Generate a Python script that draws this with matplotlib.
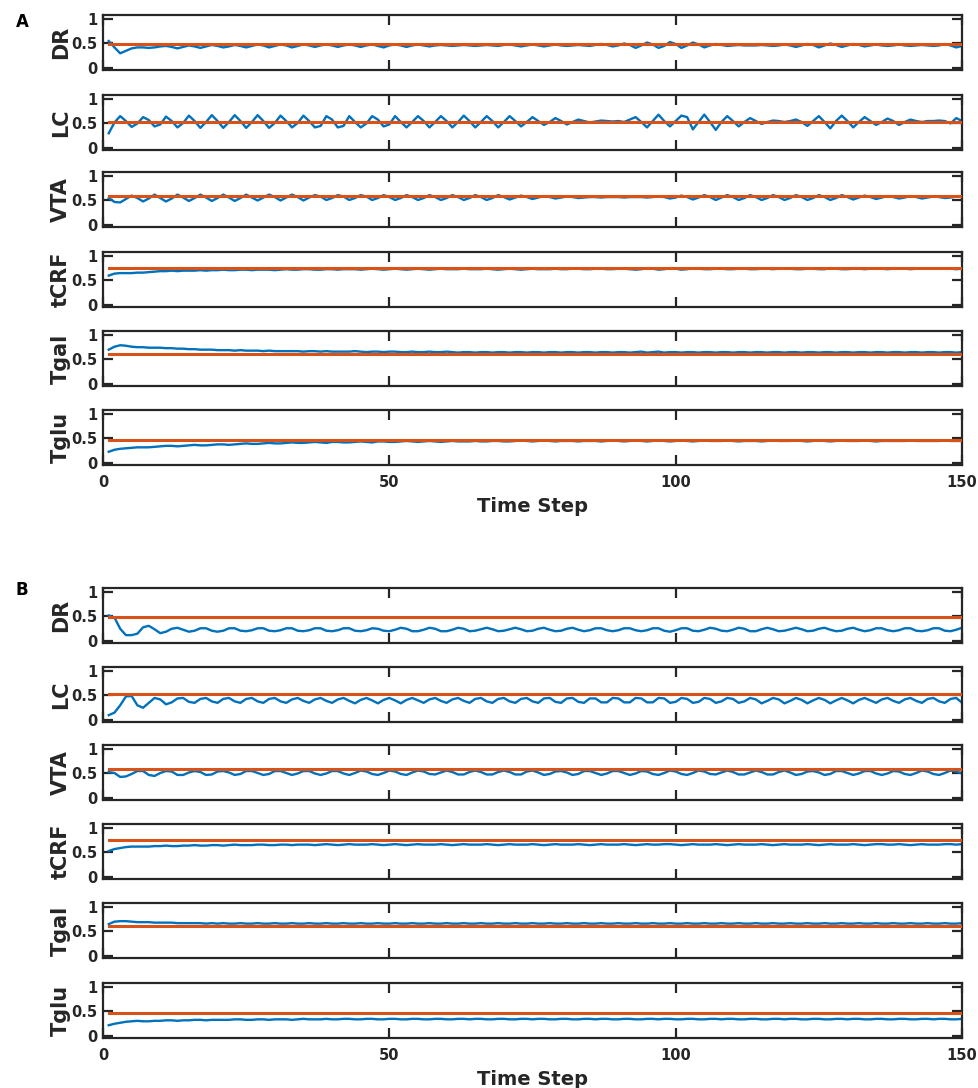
import numpy as np
import matplotlib
matplotlib.use('Agg')
import matplotlib.pyplot as plt

# variable names (top to bottom) and their reference (setpoint) levels
NAMES = ['DR', 'LC', 'VTA', 'tCRF', 'Tgal', 'Tglu']
SETPOINT = [0.48, 0.53, 0.60, 0.76, 0.62, 0.46]

X_TICKS = [0, 50, 100, 150]
Y_TICKS = [0, 0.5, 1]
Y_TICKLABELS = ['0', '0.5', '1']

# ---- panel A ----
A_DR = [0.55, 0.42, 0.30, 0.35, 0.40, 0.42, 0.42, 0.41, 0.42, 0.44,
        0.45, 0.43, 0.40, 0.43, 0.46, 0.44, 0.41, 0.44, 0.47, 0.45,
        0.42, 0.44, 0.47, 0.45, 0.42, 0.45, 0.48, 0.46, 0.42, 0.45,
        0.48, 0.46, 0.42, 0.45, 0.48, 0.46, 0.43, 0.46, 0.48, 0.46,
        0.43, 0.46, 0.48, 0.46, 0.43, 0.46, 0.48, 0.45, 0.42, 0.46,
        0.48, 0.46, 0.43, 0.46, 0.48, 0.46, 0.44, 0.46, 0.47, 0.46,
        0.45, 0.46, 0.47, 0.46, 0.45, 0.46, 0.47, 0.46, 0.45, 0.47,
        0.48, 0.46, 0.44, 0.46, 0.48, 0.46, 0.44, 0.46, 0.48, 0.46,
        0.45, 0.46, 0.47, 0.46, 0.45, 0.47, 0.49, 0.47, 0.44, 0.46,
        0.50, 0.47, 0.41, 0.46, 0.52, 0.48, 0.41, 0.45, 0.53, 0.49,
        0.41, 0.46, 0.52, 0.48, 0.42, 0.46, 0.49, 0.47, 0.45, 0.46,
        0.47, 0.46, 0.46, 0.46, 0.47, 0.46, 0.45, 0.46, 0.48, 0.46,
        0.43, 0.46, 0.49, 0.47, 0.42, 0.46, 0.50, 0.47, 0.43, 0.46,
        0.49, 0.47, 0.44, 0.46, 0.48, 0.46, 0.45, 0.46, 0.48, 0.46,
        0.45, 0.46, 0.47, 0.46, 0.45, 0.46, 0.49, 0.46, 0.42, 0.45]

A_LC = [0.30, 0.52, 0.65, 0.55, 0.43, 0.50, 0.63, 0.57, 0.44, 0.48,
        0.64, 0.55, 0.42, 0.51, 0.66, 0.55, 0.41, 0.53, 0.67, 0.55,
        0.41, 0.53, 0.67, 0.55, 0.41, 0.53, 0.67, 0.55, 0.41, 0.51,
        0.66, 0.55, 0.42, 0.51, 0.66, 0.55, 0.42, 0.45, 0.65, 0.58,
        0.42, 0.45, 0.65, 0.53, 0.42, 0.50, 0.65, 0.58, 0.44, 0.48,
        0.65, 0.53, 0.42, 0.53, 0.65, 0.55, 0.42, 0.53, 0.65, 0.55,
        0.42, 0.53, 0.66, 0.55, 0.42, 0.53, 0.65, 0.55, 0.42, 0.53,
        0.65, 0.55, 0.44, 0.53, 0.63, 0.55, 0.47, 0.53, 0.61, 0.55,
        0.48, 0.53, 0.58, 0.55, 0.52, 0.54, 0.56, 0.55, 0.54, 0.55,
        0.53, 0.58, 0.63, 0.53, 0.42, 0.55, 0.68, 0.55, 0.44, 0.55,
        0.66, 0.63, 0.38, 0.53, 0.68, 0.53, 0.37, 0.53, 0.65, 0.55,
        0.44, 0.53, 0.61, 0.55, 0.49, 0.53, 0.56, 0.55, 0.53, 0.55,
        0.58, 0.53, 0.45, 0.55, 0.65, 0.53, 0.40, 0.55, 0.66, 0.55,
        0.42, 0.53, 0.63, 0.55, 0.47, 0.53, 0.60, 0.55, 0.47, 0.53,
        0.58, 0.55, 0.53, 0.55, 0.55, 0.56, 0.55, 0.50, 0.61, 0.55]

A_VTA = [0.55, 0.47, 0.46, 0.53, 0.60, 0.55, 0.48, 0.54, 0.62, 0.55,
         0.48, 0.54, 0.62, 0.56, 0.49, 0.55, 0.62, 0.56, 0.49, 0.55,
         0.62, 0.56, 0.49, 0.55, 0.62, 0.56, 0.50, 0.56, 0.62, 0.57,
         0.50, 0.56, 0.62, 0.57, 0.50, 0.56, 0.61, 0.58, 0.51, 0.55,
         0.61, 0.58, 0.51, 0.55, 0.61, 0.58, 0.51, 0.55, 0.61, 0.57,
         0.51, 0.55, 0.61, 0.57, 0.51, 0.55, 0.61, 0.57, 0.51, 0.55,
         0.61, 0.57, 0.51, 0.55, 0.61, 0.57, 0.51, 0.55, 0.61, 0.57,
         0.52, 0.56, 0.60, 0.57, 0.53, 0.56, 0.59, 0.57, 0.54, 0.56,
         0.58, 0.57, 0.55, 0.56, 0.57, 0.57, 0.56, 0.57, 0.57, 0.57,
         0.56, 0.57, 0.57, 0.57, 0.56, 0.57, 0.58, 0.57, 0.54, 0.56,
         0.60, 0.57, 0.52, 0.56, 0.61, 0.57, 0.51, 0.56, 0.61, 0.57,
         0.51, 0.55, 0.61, 0.57, 0.51, 0.55, 0.61, 0.57, 0.51, 0.55,
         0.61, 0.57, 0.51, 0.55, 0.61, 0.57, 0.51, 0.55, 0.61, 0.57,
         0.52, 0.56, 0.60, 0.57, 0.53, 0.56, 0.59, 0.57, 0.54, 0.56,
         0.59, 0.57, 0.54, 0.56, 0.58, 0.57, 0.55, 0.56, 0.58, 0.57]

A_tCRF = [0.60, 0.64, 0.65, 0.65, 0.65, 0.66, 0.66, 0.67, 0.68, 0.69,
          0.69, 0.70, 0.69, 0.70, 0.70, 0.70, 0.71, 0.70, 0.71, 0.71,
          0.72, 0.71, 0.71, 0.72, 0.72, 0.71, 0.72, 0.72, 0.72, 0.71,
          0.72, 0.73, 0.72, 0.72, 0.73, 0.73, 0.72, 0.72, 0.73, 0.73,
          0.72, 0.73, 0.73, 0.73, 0.72, 0.73, 0.74, 0.73, 0.72, 0.73,
          0.74, 0.73, 0.72, 0.73, 0.74, 0.73, 0.72, 0.73, 0.74, 0.73,
          0.73, 0.73, 0.74, 0.73, 0.73, 0.73, 0.74, 0.73, 0.72, 0.73,
          0.74, 0.73, 0.72, 0.73, 0.74, 0.73, 0.73, 0.73, 0.74, 0.73,
          0.73, 0.74, 0.74, 0.73, 0.73, 0.74, 0.74, 0.73, 0.73, 0.74,
          0.74, 0.73, 0.72, 0.73, 0.75, 0.74, 0.72, 0.73, 0.75, 0.74,
          0.72, 0.73, 0.75, 0.74, 0.73, 0.73, 0.74, 0.74, 0.73, 0.73,
          0.74, 0.74, 0.73, 0.73, 0.74, 0.74, 0.73, 0.74, 0.74, 0.74,
          0.73, 0.73, 0.74, 0.74, 0.73, 0.73, 0.75, 0.74, 0.73, 0.73,
          0.74, 0.74, 0.73, 0.74, 0.74, 0.74, 0.73, 0.74, 0.74, 0.74,
          0.73, 0.74, 0.74, 0.74, 0.74, 0.74, 0.74, 0.74, 0.73, 0.74]

A_Tgal = [0.70, 0.76, 0.79, 0.78, 0.76, 0.75, 0.75, 0.74, 0.74, 0.74,
          0.73, 0.73, 0.72, 0.72, 0.71, 0.71, 0.70, 0.70, 0.70, 0.69,
          0.69, 0.69, 0.68, 0.69, 0.68, 0.68, 0.68, 0.67, 0.68, 0.67,
          0.67, 0.67, 0.67, 0.67, 0.66, 0.67, 0.67, 0.66, 0.67, 0.66,
          0.66, 0.66, 0.66, 0.67, 0.66, 0.65, 0.66, 0.66, 0.65, 0.66,
          0.66, 0.65, 0.65, 0.66, 0.65, 0.65, 0.66, 0.65, 0.65, 0.66,
          0.65, 0.64, 0.65, 0.65, 0.64, 0.65, 0.65, 0.64, 0.65, 0.65,
          0.64, 0.65, 0.65, 0.64, 0.65, 0.65, 0.64, 0.65, 0.65, 0.64,
          0.65, 0.65, 0.64, 0.65, 0.65, 0.64, 0.65, 0.65, 0.64, 0.65,
          0.65, 0.64, 0.65, 0.66, 0.64, 0.65, 0.66, 0.64, 0.65, 0.65,
          0.64, 0.65, 0.65, 0.64, 0.65, 0.65, 0.64, 0.65, 0.65, 0.64,
          0.65, 0.65, 0.64, 0.65, 0.65, 0.64, 0.65, 0.65, 0.64, 0.65,
          0.65, 0.64, 0.65, 0.65, 0.64, 0.65, 0.65, 0.64, 0.65, 0.65,
          0.64, 0.65, 0.65, 0.64, 0.65, 0.65, 0.64, 0.65, 0.65, 0.64,
          0.65, 0.65, 0.64, 0.65, 0.65, 0.64, 0.65, 0.65, 0.64, 0.65]

A_Tglu = [0.23, 0.27, 0.29, 0.30, 0.31, 0.32, 0.32, 0.32, 0.33, 0.34,
          0.35, 0.35, 0.34, 0.35, 0.36, 0.37, 0.36, 0.36, 0.37, 0.38,
          0.38, 0.37, 0.38, 0.39, 0.40, 0.39, 0.39, 0.40, 0.41, 0.40,
          0.40, 0.41, 0.42, 0.41, 0.41, 0.42, 0.43, 0.42, 0.41, 0.43,
          0.43, 0.42, 0.42, 0.43, 0.44, 0.43, 0.42, 0.44, 0.44, 0.43,
          0.43, 0.44, 0.45, 0.44, 0.43, 0.44, 0.45, 0.44, 0.43, 0.44,
          0.45, 0.44, 0.44, 0.44, 0.45, 0.44, 0.44, 0.45, 0.45, 0.44,
          0.44, 0.45, 0.46, 0.45, 0.44, 0.45, 0.46, 0.45, 0.44, 0.45,
          0.45, 0.45, 0.44, 0.45, 0.45, 0.45, 0.44, 0.45, 0.46, 0.45,
          0.44, 0.45, 0.46, 0.45, 0.44, 0.45, 0.46, 0.45, 0.44, 0.45,
          0.46, 0.45, 0.44, 0.45, 0.46, 0.45, 0.45, 0.45, 0.46, 0.45,
          0.44, 0.45, 0.45, 0.45, 0.44, 0.45, 0.46, 0.45, 0.45, 0.45,
          0.46, 0.45, 0.44, 0.45, 0.46, 0.45, 0.44, 0.45, 0.46, 0.45,
          0.45, 0.45, 0.46, 0.45, 0.44, 0.45, 0.45, 0.45, 0.45, 0.45,
          0.46, 0.45, 0.45, 0.45, 0.45, 0.45, 0.46, 0.45, 0.45, 0.45]

# ---- panel B ----
B_DR = [0.52, 0.48, 0.25, 0.12, 0.12, 0.15, 0.28, 0.31, 0.24, 0.16,
        0.19, 0.25, 0.27, 0.23, 0.19, 0.21, 0.26, 0.26, 0.21, 0.19,
        0.21, 0.26, 0.26, 0.21, 0.20, 0.22, 0.26, 0.26, 0.21, 0.20,
        0.22, 0.26, 0.26, 0.21, 0.20, 0.22, 0.26, 0.26, 0.21, 0.20,
        0.22, 0.26, 0.26, 0.21, 0.20, 0.22, 0.26, 0.25, 0.21, 0.20,
        0.23, 0.27, 0.25, 0.20, 0.20, 0.23, 0.27, 0.25, 0.20, 0.20,
        0.23, 0.27, 0.25, 0.20, 0.21, 0.24, 0.27, 0.24, 0.20, 0.21,
        0.24, 0.27, 0.24, 0.20, 0.21, 0.25, 0.27, 0.23, 0.20, 0.21,
        0.25, 0.27, 0.23, 0.20, 0.22, 0.26, 0.26, 0.22, 0.20, 0.22,
        0.26, 0.26, 0.22, 0.20, 0.22, 0.26, 0.26, 0.21, 0.19, 0.22,
        0.26, 0.26, 0.21, 0.20, 0.23, 0.27, 0.25, 0.21, 0.20, 0.23,
        0.27, 0.25, 0.20, 0.20, 0.24, 0.27, 0.24, 0.20, 0.21, 0.24,
        0.27, 0.24, 0.20, 0.21, 0.25, 0.27, 0.23, 0.20, 0.21, 0.25,
        0.27, 0.23, 0.20, 0.22, 0.26, 0.26, 0.22, 0.20, 0.22, 0.26,
        0.26, 0.21, 0.20, 0.22, 0.26, 0.26, 0.21, 0.20, 0.23, 0.27]

B_LC = [0.10, 0.15, 0.30, 0.48, 0.49, 0.30, 0.25, 0.35, 0.45, 0.42,
        0.32, 0.36, 0.44, 0.45, 0.37, 0.35, 0.43, 0.45, 0.38, 0.35,
        0.43, 0.45, 0.38, 0.35, 0.43, 0.45, 0.38, 0.35, 0.43, 0.45,
        0.38, 0.35, 0.42, 0.45, 0.39, 0.35, 0.42, 0.45, 0.39, 0.35,
        0.42, 0.45, 0.39, 0.34, 0.41, 0.45, 0.40, 0.34, 0.41, 0.45,
        0.40, 0.34, 0.41, 0.45, 0.40, 0.35, 0.42, 0.45, 0.39, 0.35,
        0.42, 0.45, 0.39, 0.35, 0.43, 0.45, 0.38, 0.35, 0.43, 0.45,
        0.38, 0.35, 0.43, 0.45, 0.38, 0.35, 0.44, 0.45, 0.37, 0.35,
        0.44, 0.45, 0.37, 0.35, 0.44, 0.44, 0.36, 0.36, 0.45, 0.44,
        0.36, 0.36, 0.45, 0.44, 0.36, 0.36, 0.45, 0.44, 0.35, 0.37,
        0.45, 0.43, 0.35, 0.37, 0.45, 0.43, 0.35, 0.38, 0.45, 0.43,
        0.35, 0.38, 0.45, 0.42, 0.34, 0.39, 0.45, 0.42, 0.34, 0.39,
        0.45, 0.41, 0.34, 0.40, 0.45, 0.41, 0.34, 0.40, 0.45, 0.40,
        0.34, 0.41, 0.45, 0.40, 0.35, 0.42, 0.45, 0.39, 0.35, 0.42,
        0.45, 0.39, 0.35, 0.43, 0.45, 0.38, 0.35, 0.43, 0.45, 0.35]

B_VTA = [0.53, 0.51, 0.43, 0.44, 0.49, 0.55, 0.55, 0.47, 0.45, 0.51,
         0.55, 0.54, 0.47, 0.47, 0.52, 0.55, 0.53, 0.47, 0.48, 0.54,
         0.55, 0.52, 0.47, 0.49, 0.55, 0.55, 0.51, 0.47, 0.49, 0.55,
         0.55, 0.51, 0.47, 0.50, 0.55, 0.55, 0.50, 0.47, 0.50, 0.55,
         0.55, 0.50, 0.47, 0.51, 0.56, 0.54, 0.49, 0.47, 0.51, 0.56,
         0.54, 0.49, 0.47, 0.52, 0.56, 0.54, 0.49, 0.48, 0.52, 0.56,
         0.53, 0.48, 0.48, 0.53, 0.56, 0.53, 0.48, 0.48, 0.53, 0.56,
         0.53, 0.48, 0.48, 0.54, 0.56, 0.52, 0.47, 0.49, 0.54, 0.55,
         0.52, 0.47, 0.49, 0.55, 0.55, 0.51, 0.47, 0.50, 0.55, 0.55,
         0.51, 0.47, 0.50, 0.55, 0.54, 0.49, 0.47, 0.51, 0.56, 0.54,
         0.49, 0.47, 0.51, 0.56, 0.54, 0.49, 0.48, 0.52, 0.56, 0.53,
         0.48, 0.48, 0.52, 0.56, 0.53, 0.48, 0.48, 0.53, 0.56, 0.52,
         0.47, 0.49, 0.54, 0.55, 0.52, 0.47, 0.49, 0.55, 0.55, 0.51,
         0.47, 0.50, 0.55, 0.55, 0.50, 0.47, 0.50, 0.55, 0.54, 0.49,
         0.47, 0.51, 0.56, 0.54, 0.49, 0.47, 0.51, 0.56, 0.54, 0.50]

B_tCRF = [0.53, 0.57, 0.59, 0.61, 0.62, 0.62, 0.62, 0.62, 0.63, 0.63,
          0.64, 0.63, 0.63, 0.64, 0.64, 0.65, 0.64, 0.64, 0.65, 0.65,
          0.64, 0.65, 0.66, 0.65, 0.65, 0.65, 0.66, 0.66, 0.65, 0.65,
          0.66, 0.66, 0.65, 0.66, 0.66, 0.66, 0.65, 0.66, 0.67, 0.66,
          0.65, 0.66, 0.67, 0.66, 0.66, 0.66, 0.67, 0.66, 0.65, 0.66,
          0.67, 0.66, 0.65, 0.66, 0.67, 0.66, 0.66, 0.66, 0.67, 0.66,
          0.65, 0.66, 0.67, 0.66, 0.66, 0.66, 0.67, 0.66, 0.65, 0.66,
          0.67, 0.66, 0.66, 0.66, 0.67, 0.66, 0.65, 0.66, 0.67, 0.66,
          0.66, 0.66, 0.67, 0.66, 0.65, 0.66, 0.67, 0.66, 0.66, 0.66,
          0.67, 0.66, 0.65, 0.66, 0.67, 0.66, 0.66, 0.67, 0.67, 0.66,
          0.65, 0.66, 0.67, 0.66, 0.66, 0.66, 0.67, 0.66, 0.65, 0.66,
          0.67, 0.66, 0.66, 0.66, 0.67, 0.66, 0.65, 0.66, 0.67, 0.66,
          0.66, 0.66, 0.67, 0.66, 0.65, 0.66, 0.67, 0.66, 0.66, 0.66,
          0.67, 0.66, 0.65, 0.66, 0.67, 0.67, 0.66, 0.66, 0.67, 0.66,
          0.65, 0.66, 0.67, 0.66, 0.66, 0.66, 0.67, 0.67, 0.66, 0.67]

B_Tgal = [0.65, 0.70, 0.71, 0.71, 0.70, 0.69, 0.69, 0.69, 0.68, 0.68,
          0.68, 0.68, 0.67, 0.67, 0.67, 0.67, 0.67, 0.66, 0.67, 0.66,
          0.67, 0.66, 0.66, 0.67, 0.66, 0.66, 0.67, 0.66, 0.66, 0.67,
          0.66, 0.66, 0.67, 0.66, 0.66, 0.67, 0.66, 0.66, 0.67, 0.66,
          0.66, 0.67, 0.66, 0.66, 0.67, 0.66, 0.66, 0.67, 0.66, 0.66,
          0.67, 0.66, 0.66, 0.67, 0.66, 0.66, 0.67, 0.66, 0.66, 0.67,
          0.66, 0.66, 0.67, 0.66, 0.66, 0.67, 0.66, 0.66, 0.67, 0.66,
          0.66, 0.67, 0.66, 0.66, 0.67, 0.66, 0.66, 0.67, 0.66, 0.66,
          0.67, 0.66, 0.66, 0.67, 0.66, 0.66, 0.67, 0.66, 0.66, 0.67,
          0.66, 0.66, 0.67, 0.66, 0.66, 0.67, 0.66, 0.66, 0.67, 0.66,
          0.66, 0.67, 0.66, 0.66, 0.67, 0.66, 0.66, 0.67, 0.66, 0.66,
          0.67, 0.66, 0.66, 0.67, 0.66, 0.66, 0.67, 0.66, 0.66, 0.67,
          0.66, 0.66, 0.67, 0.66, 0.66, 0.67, 0.66, 0.66, 0.67, 0.66,
          0.66, 0.67, 0.66, 0.66, 0.67, 0.66, 0.66, 0.67, 0.66, 0.66,
          0.67, 0.66, 0.66, 0.67, 0.66, 0.66, 0.67, 0.66, 0.66, 0.67]

B_Tglu = [0.22, 0.25, 0.27, 0.29, 0.30, 0.31, 0.30, 0.30, 0.31, 0.31,
          0.32, 0.32, 0.31, 0.32, 0.32, 0.33, 0.33, 0.32, 0.33, 0.33,
          0.33, 0.33, 0.34, 0.34, 0.33, 0.33, 0.34, 0.34, 0.33, 0.34,
          0.34, 0.34, 0.33, 0.34, 0.35, 0.34, 0.34, 0.34, 0.35, 0.34,
          0.34, 0.35, 0.35, 0.34, 0.34, 0.35, 0.35, 0.34, 0.34, 0.35,
          0.35, 0.34, 0.34, 0.35, 0.35, 0.34, 0.34, 0.35, 0.35, 0.34,
          0.34, 0.35, 0.35, 0.34, 0.35, 0.35, 0.34, 0.34, 0.35, 0.35,
          0.34, 0.34, 0.35, 0.35, 0.34, 0.35, 0.35, 0.34, 0.34, 0.35,
          0.35, 0.34, 0.34, 0.35, 0.35, 0.34, 0.35, 0.35, 0.34, 0.34,
          0.35, 0.35, 0.34, 0.34, 0.35, 0.35, 0.34, 0.35, 0.35, 0.34,
          0.34, 0.35, 0.35, 0.34, 0.34, 0.35, 0.35, 0.34, 0.35, 0.35,
          0.34, 0.34, 0.35, 0.35, 0.34, 0.34, 0.35, 0.35, 0.34, 0.35,
          0.35, 0.34, 0.34, 0.35, 0.35, 0.34, 0.34, 0.35, 0.35, 0.34,
          0.35, 0.35, 0.34, 0.34, 0.35, 0.35, 0.34, 0.34, 0.35, 0.35,
          0.34, 0.34, 0.35, 0.35, 0.34, 0.35, 0.35, 0.34, 0.34, 0.35]

PANEL_A = [A_DR, A_LC, A_VTA, A_tCRF, A_Tgal, A_Tglu]
PANEL_B = [B_DR, B_LC, B_VTA, B_tCRF, B_Tgal, B_Tglu]

BLUE = '#0072BD'
ORANGE = '#D95319'
DARK = '#262626'

plt.rcParams['font.family'] = ['DejaVu Sans']
plt.rcParams['font.weight'] = 'bold'

W, H = 979, 1088
fig = plt.figure(figsize=(W / 100, H / 100), dpi=100)

# axes frames in pixels (measured on the reference)
LEFT, RIGHT = 103, 962
AX_H = 55
A_TOPS = [15, 95, 172, 252, 331, 410]
B_TOPS = [588, 667, 745, 824, 903, 983]


def draw_panel(tops, series, letter, letter_y):
    for i, (top, name, y, sp) in enumerate(zip(tops, NAMES, series, SETPOINT)):
        ax = fig.add_axes([LEFT / W, 1 - (top + AX_H) / H,
                           (RIGHT - LEFT) / W, AX_H / H])
        t = np.arange(1, len(y) + 1)
        ax.plot(t, y, color=BLUE, lw=1.7, zorder=2)
        ax.plot([1, len(y)], [sp, sp], color=ORANGE, lw=2.2, zorder=3)
        ax.set_xlim(0, 150)
        ax.set_ylim(-0.04, 1.08)
        ax.set_xticks(X_TICKS)
        ax.set_yticks(Y_TICKS)
        ax.set_yticklabels(Y_TICKLABELS)
        ax.tick_params(direction='in', length=7, width=1.6, colors=DARK,
                       top=True, right=True, labelsize=10.5)
        ax.tick_params(axis='y', pad=4)
        ax.tick_params(axis='x', pad=7)
        for s in ax.spines.values():
            s.set_linewidth(1.6)
            s.set_color(DARK)
        ax.set_ylabel(name, fontsize=15, fontweight='bold', color=DARK)
        ax.yaxis.set_label_coords(-0.037, 0.5)
        if i < len(tops) - 1:
            ax.tick_params(labelbottom=False)
        else:
            ax.set_xlabel('Time Step', fontsize=14, fontweight='bold',
                          color=DARK, labelpad=5)
    fig.text(22 / W, 1 - letter_y / H, letter, fontsize=12, fontweight='bold',
             ha='center', va='center', color='black')


draw_panel(A_TOPS, PANEL_A, 'A', 22)
draw_panel(B_TOPS, PANEL_B, 'B', 590)

fig.savefig('out.png', dpi=100)
